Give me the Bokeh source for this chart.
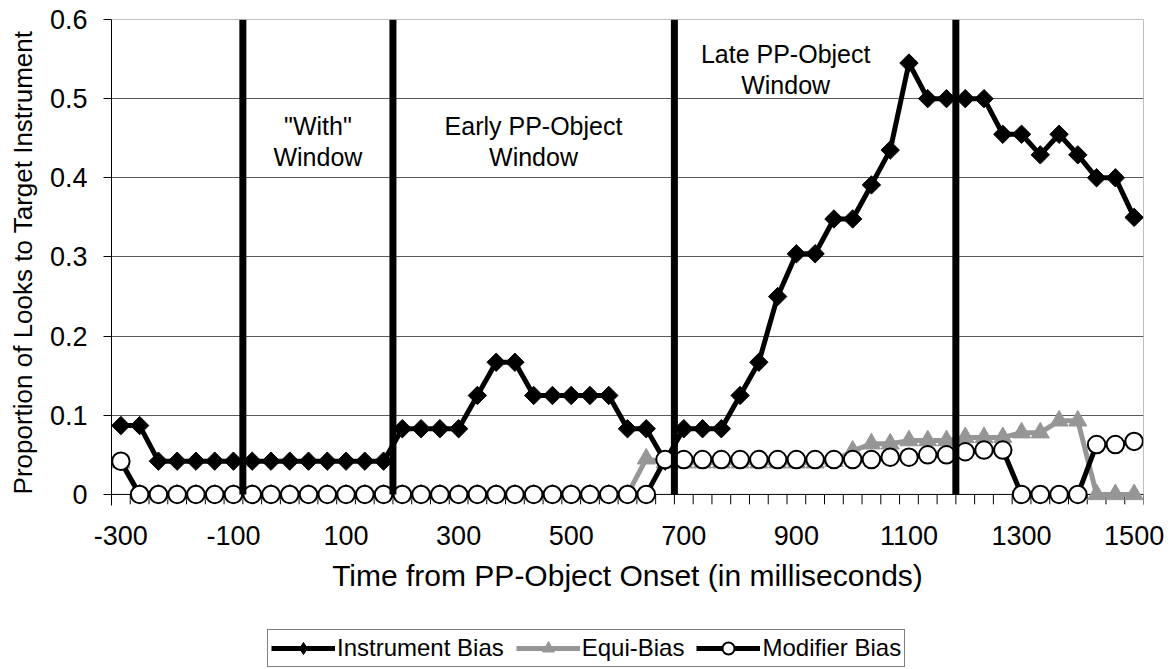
import math
from bokeh.plotting import figure
from bokeh.layouts import column
from bokeh.models import FixedTicker, Span, Legend, LegendItem, Range1d
from bokeh.core.properties import value
from bokeh.embed import file_html
from bokeh.resources import INLINE

# ---------------- data ----------------
time_ms = [-300.0, -266.7, -233.3, -200.0, -166.7, -133.3, -100.0, -66.7, -33.3, 0.0,
           33.3, 66.7, 100.0, 133.3, 166.7, 200.0, 233.3, 266.7, 300.0, 333.3,
           366.7, 400.0, 433.3, 466.7, 500.0, 533.3, 566.7, 600.0, 633.3, 666.7,
           700.0, 733.3, 766.7, 800.0, 833.3, 866.7, 900.0, 933.3, 966.7, 1000.0,
           1033.3, 1066.7, 1100.0, 1133.3, 1166.7, 1200.0, 1233.3, 1266.7, 1300.0, 1333.3,
           1366.7, 1400.0, 1433.3, 1466.7, 1500.0]

instrument_bias = [0.087, 0.087, 0.042, 0.042, 0.042, 0.042, 0.042, 0.042, 0.042, 0.042,
                   0.042, 0.042, 0.042, 0.042, 0.042, 0.083, 0.083, 0.083, 0.083, 0.125,
                   0.167, 0.167, 0.125, 0.125, 0.125, 0.125, 0.125, 0.083, 0.083, 0.042,
                   0.083, 0.083, 0.083, 0.125, 0.167, 0.250, 0.304, 0.304, 0.348, 0.348,
                   0.391, 0.435, 0.545, 0.500, 0.500, 0.500, 0.500, 0.455, 0.455, 0.429,
                   0.455, 0.429, 0.400, 0.400, 0.350]

equi_bias = [0.040, 0.0, 0.0, 0.0, 0.0, 0.0, 0.0, 0.0, 0.0, 0.0,
             0.0, 0.0, 0.0, 0.0, 0.0, 0.0, 0.0, 0.0, 0.0, 0.0,
             0.0, 0.0, 0.0, 0.0, 0.0, 0.0, 0.0, 0.0, 0.045, 0.040,
             0.040, 0.040, 0.040, 0.040, 0.040, 0.040, 0.040, 0.040, 0.042, 0.055,
             0.064, 0.064, 0.068, 0.068, 0.068, 0.072, 0.072, 0.072, 0.078, 0.078,
             0.093, 0.093, 0.0, 0.0, 0.0]

modifier_bias = [0.042, 0.0, 0.0, 0.0, 0.0, 0.0, 0.0, 0.0, 0.0, 0.0,
                 0.0, 0.0, 0.0, 0.0, 0.0, 0.0, 0.0, 0.0, 0.0, 0.0,
                 0.0, 0.0, 0.0, 0.0, 0.0, 0.0, 0.0, 0.0, 0.0, 0.044,
                 0.044, 0.044, 0.044, 0.044, 0.044, 0.044, 0.044, 0.044, 0.044, 0.044,
                 0.044, 0.047, 0.047, 0.050, 0.050, 0.054, 0.056, 0.056, 0.0, 0.0,
                 0.0, 0.0, 0.063, 0.063, 0.067]

x_tick_values = [-300, -100, 100, 300, 500, 700, 900, 1100, 1300, 1500]
x_tick_labels = ["-300", "-100", "100", "300", "500", "700", "900", "1100", "1300", "1500"]
y_tick_values = [0, 0.1, 0.2, 0.3, 0.4, 0.5, 0.6]
y_tick_labels = ["0", "0.1", "0.2", "0.3", "0.4", "0.5", "0.6"]

window_edges = [-83.3, 183.3, 683.3, 1183.3]

window_label_x = [50, 50, 433, 433, 881, 881]
window_label_y = [0.465, 0.426, 0.465, 0.426, 0.557, 0.517]
window_label_text = ['"With"', "Window", "Early PP-Object", "Window", "Late PP-Object", "Window"]

series_names = ["Instrument Bias", "Equi-Bias", "Modifier Bias"]

# category boundaries (tick marks sit between categories)
half_step = (time_ms[1] - time_ms[0]) / 2.0
category_edges = ([time_ms[0] - half_step]
                  + [(a + b) / 2.0 for a, b in zip(time_ms[:-1], time_ms[1:])]
                  + [time_ms[-1] + half_step])

FONT = "Liberation Sans"
GRAY = "#969696"

x_start = time_ms[0] - half_step
x_end = time_ms[-1] + half_step
y_bottom = -0.014
tick_len = -0.0125

p = figure(width=1170, height=625,
           x_range=(x_start, x_end), y_range=(y_bottom, 0.6),
           output_backend="svg", toolbar_location=None,
           min_border_left=111, min_border_right=27,
           min_border_top=19, min_border_bottom=120)
p.background_fill_color = "white"
p.border_fill_color = "white"
p.outline_line_color = None

# grid
p.xgrid.visible = False
p.ygrid.ticker = FixedTicker(ticks=y_tick_values[1:-1])
p.ygrid.grid_line_color = "#5a5a5a"
p.ygrid.grid_line_width = 1

# frame borders (top / right) and the zero axis line
p.add_layout(Span(location=0.6, dimension="width", line_color="#808080", line_width=1))
p.add_layout(Span(location=x_end, dimension="height", line_color="#808080", line_width=1))
p.add_layout(Span(location=0, dimension="width", line_color="black", line_width=1, level="underlay"))

# y axis
yax = p.yaxis[0]
yax.ticker = FixedTicker(ticks=y_tick_values)
yax.major_label_overrides = {v: s for v, s in zip(y_tick_values, y_tick_labels)}
yax.axis_line_color = "black"
yax.major_tick_line_color = "black"
yax.major_tick_out = 8
yax.major_tick_in = 0
yax.minor_tick_line_color = None
yax.major_label_text_font = FONT
yax.major_label_text_font_size = "27px"
yax.major_label_text_color = "black"
yax.major_label_standoff = 16
yax.axis_label = "Proportion of Looks to Target Instrument"
yax.axis_label_text_font = FONT
yax.axis_label_text_font_size = "26px"
yax.axis_label_text_font_style = "normal"
yax.axis_label_text_color = "black"
yax.axis_label_standoff = 9

# x axis (labels only; the tick marks between categories are drawn below the data)
xax = p.xaxis[0]
xax.ticker = FixedTicker(ticks=x_tick_values)
xax.major_label_overrides = {v: s for v, s in zip(x_tick_values, x_tick_labels)}
xax.axis_line_color = None
xax.major_tick_line_color = None
xax.major_tick_in = 0
xax.major_tick_out = 0
xax.minor_tick_line_color = None
xax.major_label_text_font = FONT
xax.major_label_text_font_size = "27px"
xax.major_label_text_color = "black"
xax.major_label_standoff = 20
xax.axis_label = "Time from PP-Object Onset (in milliseconds)"
xax.axis_label_text_font = FONT
xax.axis_label_text_font_size = "30px"
xax.axis_label_text_font_style = "normal"
xax.axis_label_text_color = "black"
xax.axis_label_standoff = 11

# category tick marks on the x axis
p.segment(x0=category_edges, y0=[0] * len(category_edges), x1=category_edges,
          y1=[tick_len] * len(category_edges), line_color="black", line_width=1)

# series
p.line(time_ms, instrument_bias, line_color="black", line_width=5)
p.scatter(time_ms, instrument_bias, marker="square", angle=math.pi / 4, size=13,
          fill_color="black", line_color="black")
p.line(time_ms, equi_bias, line_color=GRAY, line_width=5)
p.scatter(time_ms, equi_bias, marker="triangle", size=18, fill_color=GRAY, line_color=GRAY)
p.line(time_ms, modifier_bias, line_color="black", line_width=5)
p.scatter(time_ms, modifier_bias, marker="circle", size=17.5,
          fill_color="white", line_color="black", line_width=2)

# window boundaries
p.segment(x0=window_edges, y0=[0] * len(window_edges), x1=window_edges,
          y1=[0.6] * len(window_edges), line_color="black", line_width=7)

# window labels
p.text(x=window_label_x, y=window_label_y, text=window_label_text,
       text_font=value(FONT), text_font_size=value("25px"), text_color="black",
       text_align="center", text_baseline="alphabetic")

# ---------------- legend strip ----------------
# the series are plotted again far outside this strip's view, only to feed the legend
lg = figure(width=1170, height=43, x_range=Range1d(5000, 6000), y_range=Range1d(5, 6),
            x_axis_type=None, y_axis_type=None,
            output_backend="svg", toolbar_location=None,
            min_border=0, min_border_left=0, min_border_right=0,
            min_border_top=0, min_border_bottom=0)
lg.background_fill_color = "white"
lg.border_fill_color = "white"
lg.outline_line_color = None
lg.grid.visible = False

li_l = lg.line(time_ms, instrument_bias, line_color="black", line_width=5)
li_m = lg.scatter(time_ms, instrument_bias, marker="diamond", size=16,
                  fill_color="black", line_color="black")
le_l = lg.line(time_ms, equi_bias, line_color=GRAY, line_width=5)
le_m = lg.scatter(time_ms, equi_bias, marker="triangle", size=18, fill_color=GRAY, line_color=GRAY)
lm_l = lg.line(time_ms, modifier_bias, line_color="black", line_width=5)
lm_m = lg.scatter(time_ms, modifier_bias, marker="circle", size=17.5,
                  fill_color="white", line_color="black", line_width=2)

legend = Legend(items=[
    LegendItem(label=series_names[0], renderers=[li_l, li_m]),
    LegendItem(label=series_names[1], renderers=[le_l, le_m]),
    LegendItem(label=series_names[2], renderers=[lm_l, lm_m]),
], orientation="horizontal", location=(156, 1))
legend.border_line_color = "black"
legend.border_line_width = 1
legend.background_fill_color = "white"
legend.background_fill_alpha = 1.0
legend.label_text_font = FONT
legend.label_text_font_size = "24px"
legend.label_text_color = "black"
legend.glyph_width = 64
legend.glyph_height = 30
legend.label_height = 28
legend.label_standoff = 2
legend.spacing = 12
legend.padding = 3
legend.margin = 0
lg.add_layout(legend, "center")

layout = column(p, lg, spacing=0)
open("out.html", "w").write(file_html(layout, INLINE))
